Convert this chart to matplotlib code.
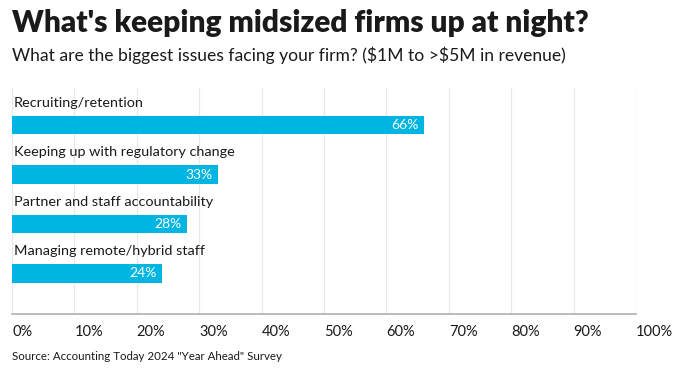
import matplotlib.pyplot as plt

# dane
categories = ["Recruiting/retention", "Keeping up with regulatory change",
              "Partner and staff accountability", "Managing remote/hybrid staff"]
values = [66, 33, 28, 24]
ticks = [0, 10, 20, 30, 40, 50, 60, 70, 80, 90, 100]
tick_labels = [f"{t}%" for t in ticks]

plt.rcParams['font.family'] = ['Lato', 'DejaVu Sans']
plt.rcParams['text.parse_math'] = False
bar_color = '#00b5e2'
text_color = '#1a1a1a'

fig = plt.figure(figsize=(6.91, 3.74), dpi=100)
ax = fig.add_axes([12/691, 1 - 314/374, 624/691, 226/374])

pos = list(range(len(categories)))
ax.barh(pos, values, height=0.38, color=bar_color, zorder=2)

for i, (cat, v) in enumerate(zip(categories, values)):
    ax.text(0.3, i - 0.45, cat, ha='left', va='center', fontsize=10.4, color=text_color)
    ax.text(v - 0.8, i, f"{v}%", ha='right', va='center', fontsize=10, color='white', zorder=3)

ax.set_xlim(0, 100)
ax.set_ylim(3 + 0.82, -0.75)
ax.set_xticks(ticks)
ax.set_xticklabels(tick_labels, ha='left', fontsize=10.5, color=text_color)
ax.tick_params(axis='x', length=0, pad=8)
ax.set_yticks([])
ax.grid(axis='x', color='#e8e8e8', linewidth=0.9, zorder=0)
for s in ['top', 'right', 'left']:
    ax.spines[s].set_visible(False)
ax.spines['bottom'].set_color('#b0b0b0')
ax.spines['bottom'].set_linewidth(1.2)

fig.text(12/691, 1 - 23/374, "What's keeping midsized firms up at night?", ha='left', va='center',
         fontsize=21.5, fontweight='heavy', color=text_color)
fig.text(12/691, 1 - 55/374, "What are the biggest issues facing your firm? ($1M to >$5M in revenue)",
         ha='left', va='center', fontsize=12.6, color=text_color)
fig.text(12/691, 1 - 356/374, 'Source: Accounting Today 2024 "Year Ahead" Survey', ha='left', va='center',
         fontsize=8.3, color=text_color)

fig.savefig('out.png', dpi=100)
